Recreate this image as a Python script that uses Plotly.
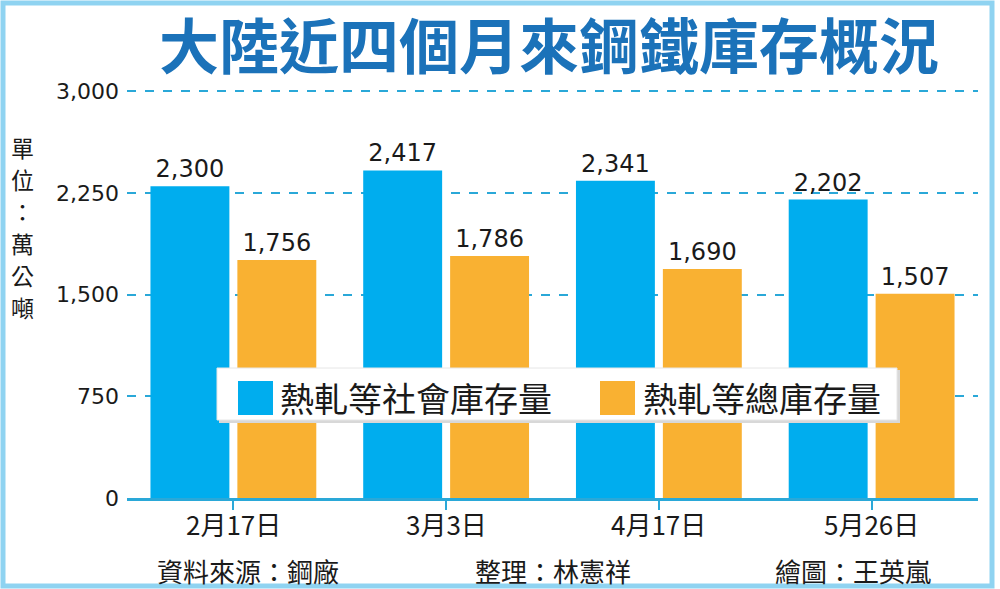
import plotly.graph_objects as go

# data
dates = ["2月17日", "3月3日", "4月17日", "5月26日"]
social_stock = [2300, 2417, 2341, 2202]
total_stock = [1756, 1786, 1690, 1507]
series_names = ["熱軋等社會庫存量", "熱軋等總庫存量"]
y_ticks = [0, 750, 1500, 2250, 3000]

BLUE = "#00adee"
ORANGE = "#f9b132"
TITLE_BLUE = "#1b72b9"
GRID = "#2aa8d8"
FRAME = "#8fd3f1"
CJK = "Noto Sans CJK TC"
NUM = "DejaVu Sans"

W, H = 1000, 589
L, R, T, B = 127, 22, 90, 91


def px(x, y):
    # pixel position -> paper coords
    return (x - L) / (W - L - R), (H - B - y) / (H - T - B)


fig = go.Figure()
for name, vals, col in [(series_names[0], social_stock, BLUE),
                        (series_names[1], total_stock, ORANGE)]:
    fig.add_trace(go.Bar(
        x=dates, y=vals, name=name, marker=dict(color=col, line=dict(width=0)),
        texttemplate="%{y:,}", textposition="outside",
        textfont=dict(family=NUM, size=24, color="#1a1a1a"),
        cliponaxis=False, showlegend=False,
    ))

shapes = []
annos = []

# frame
x0, y0 = px(3, 3)
x1, y1 = px(992, 586)
shapes.append(dict(type="rect", xref="paper", yref="paper", x0=x0, y0=y1, x1=x1, y1=y0,
                   line=dict(color=FRAME, width=5), layer="below"))

# legend box with a soft shadow
sx0, sy0 = px(219, 370)
sx1, sy1 = px(900, 423)
shapes.append(dict(type="rect", xref="paper", yref="paper", x0=sx0, y0=sy1, x1=sx1, y1=sy0,
                   fillcolor="#d8d8d8", line=dict(width=0), layer="above"))
lx0, ly0 = px(217, 368)
lx1, ly1 = px(897, 420)
shapes.append(dict(type="rect", xref="paper", yref="paper", x0=lx0, y0=ly1, x1=lx1, y1=ly0,
                   fillcolor="white", line=dict(color="#e6e6e6", width=1), layer="above"))
for (bx, tx), name, col in zip([(238, 278), (600, 641)], series_names, [BLUE, ORANGE]):
    a, b = px(bx, 381)
    c, d = px(bx + 35, 415)
    shapes.append(dict(type="rect", xref="paper", yref="paper", x0=a, y0=d, x1=c, y1=b,
                       fillcolor=col, line=dict(width=0), layer="above"))
    ax, ay = px(tx, 397)
    annos.append(dict(text=name, xref="paper", yref="paper", x=ax, y=ay, xanchor="left",
                      yanchor="middle", showarrow=False,
                      font=dict(family=CJK, size=34, color="#1a1a1a")))

# title
tx, ty = px(549, 43)
annos.append(dict(text="大陸近四個月來鋼鐵庫存概況", xref="paper", yref="paper", x=tx, y=ty,
                  xanchor="center", yanchor="middle", showarrow=False, borderpad=0,
                  font=dict(family=CJK, size=60, color=TITLE_BLUE, weight=600)))

# unit label, one character per line
for ch, cy in zip("單位：萬公噸", [147, 179, 211, 243, 275, 307]):
    ux, uy = px(22, cy)
    annos.append(dict(text=ch, xref="paper", yref="paper", x=ux, y=uy,
                      xanchor="center", yanchor="middle", showarrow=False, borderpad=0,
                      font=dict(family=CJK, size=23, color="#1a1a1a")))

# category labels
for d in dates:
    annos.append(dict(text=d, xref="x", yref="paper", x=d, y=px(0, 523)[1],
                      xanchor="center", yanchor="middle", showarrow=False,
                      font=dict(family=CJK, size=26, color="#1a1a1a")))

# credits
for text, cx in [("資料來源：鋼廠", 248), ("整理：林憲祥", 553), ("繪圖：王英嵐", 853)]:
    ax, ay = px(cx, 570)
    annos.append(dict(text=text, xref="paper", yref="paper", x=ax, y=ay, xanchor="center",
                      yanchor="middle", showarrow=False, borderpad=0,
                      font=dict(family=CJK, size=26, color="#1a1a1a")))

fig.update_layout(
    width=W, height=H, margin=dict(l=L, r=R, t=T, b=B),
    paper_bgcolor="white", plot_bgcolor="white",
    barmode="group", bargap=0.183, bargroupgap=0.092,
    shapes=shapes, annotations=annos,
    xaxis=dict(showline=True, linecolor=GRID, linewidth=3, ticks="outside", ticklen=9,
               tickwidth=2, tickcolor=GRID, showgrid=False, showticklabels=False,
               range=[-0.5, 3.5]),
    yaxis=dict(range=[0, 3010], tickvals=y_ticks, tickformat=",", showgrid=True,
               gridcolor=GRID, griddash="dash", gridwidth=1.5, zeroline=False,
               ticks="", ticklabelstandoff=7,
               tickfont=dict(family=NUM, size=22, color="#1a1a1a")),
)

fig.write_html("out.html", config={"displayModeBar": False},
               post_script="document.body.style.margin='0';")
